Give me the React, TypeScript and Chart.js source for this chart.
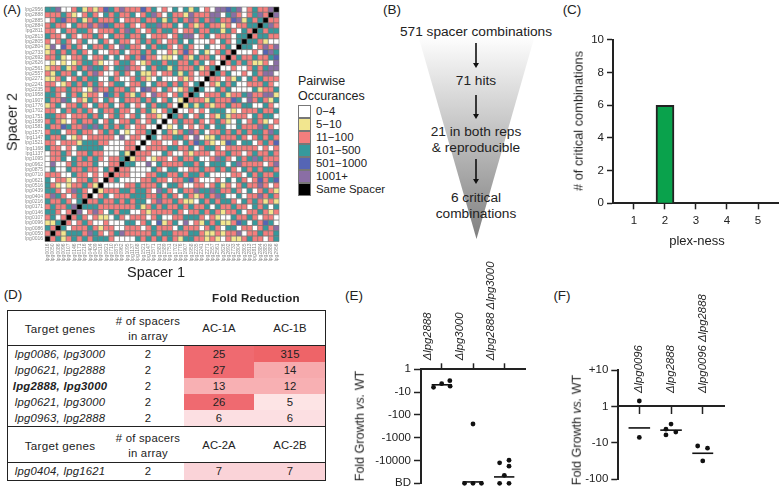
import React, { useEffect, useRef } from "react";
import { Chart, registerables } from "chart.js";

Chart.register(...registerables);

const FONT = "'Liberation Sans', Arial, sans-serif";
const INK = "#222222";

// ---------- Panel A data ----------
const spacersTopToBottom = [
  "lpg2956", "lpg2888", "lpg2885", "lpg2884", "lpg2811", "lpg2813", "lpg2805", "lpg2804", "lpg2733", "lpg2692", "lpg2626",
  "lpg2561", "lpg2557", "lpg2271", "lpg2241", "lpg2235", "lpg1958", "lpg1907", "lpg1776", "lpg1702", "lpg1751", "lpg1589",
  "lpg1581", "lpg1571", "lpg1147", "lpg1521", "lpg1168", "lpg1137", "lpg1095", "lpg0962", "lpg0875", "lpg0710", "lpg0621",
  "lpg0516", "lpg0439", "lpg0404", "lpg0216", "lpg0171", "lpg0146", "lpg0107", "lpg0096", "lpg0086", "lpg0050", "lpg0016",
];
// Bins read row by row from the part above the diagonal; the matrix is symmetric about it.
// w 0-4, y 5-10, r 11-100, t 101-500, b 501-1000, p 1001+
const pairBinsUpper = [
  "ttpwwrtyryrbtrprrrbrtw" + "rwtwtytwrwppbtpwrtrrp",
  "rrrtrywrtrwtrtrrtwrtpr" + "wtrryprrrppwtprwrtpr",
  "wrtbrrtyrtrrrtwrrrtrrt" + "ytrtrprtrptrrbpytrt",
  "rtrrwtrrprpbtrrtrwrttp" + "rrtwtryrtrryrwrrtt",
  "rrwtrrttrwrrrtrptrwrtr" + "ttrwrrtrrttytrwtr",
  "trrwtrwrrtrwtrrtrrtwrr" + "rwrtppwrtwrrrwtt",
  "rwrtrwrtwwtrwtrrwrtrtr" + "wrrtwtwwwrwtrwt",
  "ypwbrtrwtrrtrwptrrwtrt" + "trwrtrwwtwwrtw",
  "yrtrtrtrwtwwrrtwrrtrtw" + "wryrbrwtywrtr",
  "rrtywrrtwrrtwtwrtrbrrw" + "yywtrytrrtwr",
  "wywywyrttrywwrttrwyrtt" + "rttrrtrtwrw",
  "yrrtyrtrpttrwttprrwtrt" + "tytrrrtyrt",
  "rytrrtwtrprwwrtrwtyyrw" + "rrtytrwrr",
  "yyrtwrtrttwwtrwwrtrywt" + "wwwryrww",
  "rrwyrtrtrtrwrttwrrtwtr" + "rtrtrwt",
  "rtrrtrrwyprrtrrtrwbprw" + "trwyrt",
  "ttrwtrtyrrwbtrtrytrwpr" + "rwrtr",
  "trrptwrytrwtrwtrrrtrtw" + "rtwy",
  "yrtwrrtrwtrrtwrtwrwtrt" + "trw",
  "rrwtrtrtrwtrrtrrwtrtyw" + "rt",
  "ttrrwrrrtrtwrtrwrtwrry" + "w",
  "rtrywrtrrtwrtwrrtrwrtw",
  "trrbtrrptptrtrtrwrrww",
  "rttwrrtrrwrtrtwywrrt",
  "trrtwyrwrrrrrwpwrrw",
  "rrwrrrytttrrwwwrrw",
  "trrwrwtttttwwwwrr",
  "wrrtrwrrtrrwwwty",
  "wrrtwtrtrtrwrrt",
  "wpwwrtrrrtwwrr",
  "wtwwtrrtrrwtr",
  "rrrwwtrrwrwr",
  "twrrywrrtrw",
  "trywyrrtry",
  "ttrwrptrw",
  "rptrwrtr",
  "trrtrwt",
  "rtrrtp",
  "ttrwr",
  "rtwr",
  "yyt",
  "tr",
  "r",
];
const binColors: Record<string, string> = {
  w: "#ffffff", y: "#f2e68f", r: "#f47e7d", t: "#36999c", b: "#5565b5", p: "#8a6ea5", k: "#000000",
};
const legendBins = [
  ["0\u22124", "w"], ["5\u221210", "y"], ["11\u2212100", "r"], ["101\u2212500", "t"],
  ["501\u22121000", "b"], ["1001+", "p"], ["Same Spacer", "k"],
];

// ---------- Panel B data ----------
const funnelLines = [
  ["571 spacer combinations", 32], ["71 hits", 81], ["21 in both reps", 131.5], ["& reproducible", 148],
  ["6 critical", 198], ["combinations", 214],
] as [string, number][];

// ---------- Panel C data ----------
const plexNess = [1, 2, 3, 4, 5];
const criticalCombinations = [0, 6, 0, 0, 0];

// ---------- Panel D data ----------
const tableOneGenes = ["lpg0086, lpg3000", "lpg0621, lpg2888", "lpg2888, lpg3000", "lpg0621, lpg3000", "lpg0963, lpg2888"];
const tableOneSpacers = [2, 2, 2, 2, 2];
const tableOneA = [25, 27, 13, 26, 6];
const tableOneB = [315, 14, 12, 5, 6];
const tableTwoGenes = ["lpg0404, lpg1621"];
const tableTwoSpacers = [2];
const tableTwoA = [7];
const tableTwoB = [7];

// ---------- Panel E data (position on the axis: 0 = 1, 1 = -10 ... 5 = BD) ----------
const eTicks = ["1", "-10", "-100", "-1000", "-10000", "BD"];
const eLabels = ["\u0394lpg2888", "\u0394lpg3000", "\u0394lpg2888 \u0394lpg3000"];
const ePoints = [
  { x: 0.74, y: 0.79 }, { x: 1.0, y: 0.63 }, { x: 1.26, y: 0.5 }, { x: 1.27, y: 0.74 },
  { x: 2.0, y: 2.4 }, { x: 1.73, y: 5.0 }, { x: 2.0, y: 5.0 }, { x: 2.27, y: 5.0 },
  { x: 2.85, y: 4.1 }, { x: 3.15, y: 3.99 }, { x: 3.15, y: 4.25 }, { x: 3.0, y: 4.65 }, { x: 2.85, y: 5.0 }, { x: 3.15, y: 5.0 },
];
const eMedians = [
  [{ x: 0.68, y: 0.68 }, { x: 1.32, y: 0.68 }],
  [{ x: 1.67, y: 4.94 }, { x: 2.32, y: 4.94 }],
  [{ x: 2.67, y: 4.72 }, { x: 3.32, y: 4.72 }],
];

// ---------- Panel F data (position on the axis: 1 = +10, 0 = 1, -1 = -10, -2 = -100) ----------
const fTicks: Record<string, string> = { "1": "+10", "0": "1", "-1": "-10", "-2": "-100" };
const fLabels = ["\u0394lpg0096", "\u0394lpg2888", "\u0394lpg0096 \u0394lpg2888"];
const fPoints = [
  { x: 1.0, y: 0.148 }, { x: 1.0, y: -0.854 },
  { x: 2.0, y: -0.488 }, { x: 1.84, y: -0.628 }, { x: 2.15, y: -0.706 }, { x: 1.84, y: -0.785 },
  { x: 2.84, y: -1.09 }, { x: 3.15, y: -1.15 }, { x: 3.0, y: -1.5 },
];
const fMedians = [
  [{ x: 0.66, y: -0.593 }, { x: 1.34, y: -0.593 }],
  [{ x: 1.66, y: -0.654 }, { x: 2.34, y: -0.654 }],
  [{ x: 2.67, y: -1.29 }, { x: 3.33, y: -1.29 }],
];

// ---------- helpers ----------
function binAt(row: number, col: number): string {
  const n = spacersTopToBottom.length;
  if (row + col === n - 1) return "k";
  if (row + col < n - 1) return pairBinsUpper[row]?.[col] ?? "r";
  return pairBinsUpper[n - 1 - col]?.[n - 1 - row] ?? "r";
}
function heat(v: number): string {
  if (v >= 300) return "#ee6468";
  if (v >= 25) return "#ef6a70";
  if (v >= 14) return "#f7aaad";
  if (v >= 12) return "#f8b0b3";
  if (v >= 7) return "#fad3d8";
  if (v >= 6) return "#fcdfe2";
  return "#fde4e5";
}
const axisGrid = (tickLength: number) => ({
  display: true, drawOnChartArea: false, drawTicks: true, tickLength, tickWidth: 1.5, tickColor: INK, offset: false,
});
const axisBorder = { display: true, color: INK, width: 2 };
const tickFont = { family: FONT, size: 11.5 };
const sideLabelFont = { family: FONT, size: 11.3, style: "italic" };

function useChart(ref: React.RefObject<HTMLCanvasElement | null>, make: (c: HTMLCanvasElement) => Chart) {
  useEffect(() => {
    if (!ref.current) return;
    const chart = make(ref.current);
    return () => chart.destroy();
  }, []);
}

function T({ x, y, size = 12, rot = 0, bold = false, italic = false, color = INK, children, spacing = 0 }: any) {
  return (
    <div style={{
      position: "absolute", left: x, top: y, whiteSpace: "nowrap", fontFamily: FONT, fontSize: size, color,
      fontWeight: bold ? 700 : 400, fontStyle: italic ? "italic" : "normal", letterSpacing: spacing, lineHeight: 1,
      transform: `translate(-50%,-50%) rotate(${rot}deg)`,
    }}>{children}</div>
  );
}

function Canvas({ cref, left, top, w, h }: any) {
  return <canvas ref={cref} width={w} height={h} style={{ position: "absolute", left, top, width: w, height: h }} />;
}

function TableRow({ y, gene, n, a, b, bold, bandTop, bandH }: any) {
  return (
    <>
      <div style={{ position: "absolute", left: 183.5, top: bandTop, width: 70.5, height: bandH, background: heat(a) }} />
      <div style={{ position: "absolute", left: 254, top: bandTop, width: 71, height: bandH, background: heat(b) }} />
      <T x={60} y={y} size={11.3} italic bold={bold} spacing={0.25}>{gene}</T>
      <T x={148} y={y} size={11.3}>{n}</T>
      <T x={219} y={y} size={11.3}>{a}</T>
      <T x={290} y={y} size={11.3}>{b}</T>
    </>
  );
}

function TableHead({ y, a, b }: any) {
  return (
    <>
      <T x={60} y={y} size={11.6} spacing={0.3}>Target genes</T>
      <T x={148} y={y - 7.5} size={11.3} spacing={0.25}># of spacers</T>
      <T x={148} y={y + 8} size={11.3} spacing={0.25}>in array</T>
      <T x={219} y={y} size={11.3}>{a}</T>
      <T x={290} y={y} size={11.3}>{b}</T>
    </>
  );
}

export default function App() {
  const heatRef = useRef<HTMLCanvasElement>(null);
  const barRef = useRef<HTMLCanvasElement>(null);
  const eRef = useRef<HTMLCanvasElement>(null);
  const fRef = useRef<HTMLCanvasElement>(null);

  useChart(heatRef, (c) => {
    const xLabels = [...spacersTopToBottom].reverse();
    const cells: { x: string; y: string }[] = [];
    const colors: string[] = [];
    spacersTopToBottom.forEach((yLabel, r) => {
      xLabels.forEach((xLabel, col) => {
        cells.push({ x: xLabel, y: yLabel });
        colors.push(binColors[binAt(r, col)]);
      });
    });
    const labelTick = { font: { family: FONT, size: 5 }, color: "#8a8a8a", autoSkip: false, padding: 2 };
    const noGrid = { display: false, drawTicks: false };
    return new Chart(c, {
      type: "scatter",
      data: {
        datasets: [{
          data: cells as any, pointStyle: "rect", pointRadius: 3.77, pointBorderWidth: 0.6,
          pointBackgroundColor: colors, pointBorderColor: "#6f6f6f",
        }],
      },
      options: {
        responsive: false, animation: false, events: [],
        layout: { padding: { top: 7, right: 11, left: 0, bottom: 0 } },
        plugins: { legend: { display: false }, tooltip: { enabled: false } },
        scales: {
          x: {
            type: "category", labels: xLabels, offset: true, grid: noGrid, border: { display: false },
            ticks: { ...labelTick, minRotation: 90, maxRotation: 90 },
            afterFit: (s: any) => { s.height = 28.5; },
          },
          y: {
            type: "category", labels: spacersTopToBottom, offset: true, grid: noGrid, border: { display: false },
            ticks: labelTick,
            afterFit: (s: any) => { s.width = 45; },
          },
        },
      },
    } as any);
  });

  useChart(barRef, (c) => new Chart(c, {
    type: "bar",
    data: {
      datasets: [{
        data: plexNess.map((p, i) => ({ x: p, y: criticalCombinations[i] })) as any,
        backgroundColor: "#0aa24c", borderColor: INK, borderWidth: 2, barThickness: 18,
      }],
    },
    options: {
      responsive: false, animation: false, events: [],
      layout: { padding: { top: 8, right: 2 } },
      plugins: { legend: { display: false }, tooltip: { enabled: false } },
      scales: {
        x: {
          type: "linear", offset: false, min: 0.323, max: 5.645, grid: axisGrid(6), border: axisBorder,
          ticks: { stepSize: 1, includeBounds: false, font: tickFont, color: INK, padding: 5 },
          afterFit: (s: any) => { s.height = 41.7; },
        },
        y: {
          min: 0, max: 10, grid: axisGrid(6), border: axisBorder,
          ticks: { stepSize: 2, font: tickFont, color: INK, padding: 3 },
          afterFit: (s: any) => { s.width = 53; },
        },
      },
    },
  } as any));

  useChart(eRef, (c) => new Chart(c, {
    type: "scatter",
    data: {
      datasets: [
        { data: ePoints, pointRadius: 2.4, pointBackgroundColor: "#111", pointBorderWidth: 0, clip: false },
        ...eMedians.map((m) => ({ data: m, showLine: true, borderColor: "#111", borderWidth: 1.6, pointRadius: 0, clip: false })),
      ],
    },
    options: {
      responsive: false, animation: false, events: [],
      layout: { padding: { right: 15, bottom: 10.7 } },
      plugins: { legend: { display: false }, tooltip: { enabled: false } },
      scales: {
        x: {
          type: "linear", position: "top", min: 0.34, max: 3.66, grid: axisGrid(6), border: axisBorder,
          ticks: {
            stepSize: 1, includeBounds: false, font: sideLabelFont, color: INK, padding: 3,
            minRotation: 90, maxRotation: 90, autoSkip: false,
            callback: (v: any) => eLabels[Number(v) - 1] ?? "",
          },
          afterFit: (s: any) => { s.height = 119.3; },
        },
        y: {
          reverse: true, min: 0, max: 5, grid: axisGrid(7), border: axisBorder,
          ticks: { stepSize: 1, font: tickFont, color: INK, padding: 3, callback: (v: any) => eTicks[Number(v)] ?? "" },
          afterFit: (s: any) => { s.width = 81; },
        },
      },
    },
  } as any));

  useChart(fRef, (c) => new Chart(c, {
    type: "scatter",
    data: {
      datasets: [
        { data: fPoints, pointRadius: 2.4, pointBackgroundColor: "#111", pointBorderWidth: 0, clip: false },
        ...fMedians.map((m) => ({ data: m, showLine: true, borderColor: "#111", borderWidth: 1.6, pointRadius: 0, clip: false })),
      ],
    },
    options: {
      responsive: false, animation: false, events: [],
      layout: { padding: { right: 16, bottom: 4 } },
      plugins: { legend: { display: false }, tooltip: { enabled: false } },
      scales: {
        x: {
          type: "linear", position: { y: 0 }, min: 0.337, max: 3.67, grid: axisGrid(7), border: axisBorder,
          ticks: { stepSize: 1, includeBounds: false, display: false },
        },
        x2: {
          type: "linear", position: "top", min: 0.337, max: 3.67,
          grid: { display: false, drawTicks: false }, border: { display: false },
          ticks: {
            stepSize: 1, includeBounds: false, font: sideLabelFont, color: INK, padding: 23, mirror: true,
            minRotation: 90, maxRotation: 90, autoSkip: false,
            callback: (v: any) => fLabels[Number(v) - 1] ?? "",
          },
          afterFit: (s: any) => { s.height = 90; },
        },
        y: {
          min: -2, max: 1, grid: axisGrid(7), border: axisBorder,
          ticks: { stepSize: 1, font: tickFont, color: INK, padding: 3, callback: (v: any) => fTicks[String(Number(v))] ?? "" },
          afterFit: (s: any) => { s.width = 58.3; },
        },
      },
    },
  } as any));

  return (
    <div style={{ position: "fixed", left: 0, top: 0, width: 780, height: 494, background: "#fff", overflow: "hidden" }}>
      {/* Panel letters */}
      <T x={12} y={10} size={13.5}>(A)</T>
      <T x={392} y={10} size={13.5}>(B)</T>
      <T x={572} y={10} size={13.5}>(C)</T>
      <T x={13} y={295} size={13.5}>(D)</T>
      <T x={354} y={296} size={13.5}>(E)</T>
      <T x={562} y={296} size={13.5}>(F)</T>

      {/* Panel A */}
      <Canvas cref={heatRef} left={0} top={0} w={290} h={270} />
      <T x={12} y={122} size={14.5} rot={-90}>Spacer 2</T>
      <T x={156} y={272} size={14.5}>Spacer 1</T>
      <div style={{ position: "absolute", left: 298, top: 74, fontFamily: FONT, fontSize: 12.5, lineHeight: "15px", color: INK }}>
        Pairwise<br />Occurances
      </div>
      {legendBins.map(([label, key], i) => (
        <React.Fragment key={label}>
          <div style={{
            position: "absolute", left: 298, top: 104.5 + i * 13, width: 13, height: 13, boxSizing: "border-box",
            background: binColors[key], border: "1px solid #777",
          }} />
          <div style={{ position: "absolute", left: 316, top: 104.5 + i * 13, fontFamily: FONT, fontSize: 11.4, lineHeight: "13px", color: INK, whiteSpace: "nowrap" }}>{label}</div>
        </React.Fragment>
      ))}

      {/* Panel B */}
      <div style={{
        position: "absolute", left: 418, top: 35, width: 117, height: 204,
        background: "linear-gradient(to bottom, #ffffff 0%, #7f7f7f 100%)",
        clipPath: "polygon(0 0, 100% 0, 50% 100%)",
      }} />
      {funnelLines.map(([line, y]) => <T key={line} x={476} y={y} size={13.7}>{line}</T>)}
      <svg width={780} height={300} style={{ position: "absolute", left: 0, top: 0 }}>
        {[[43, 68], [95, 119], [159, 184]].map(([a, b]) => (
          <g key={a}>
            <line x1={476} y1={a} x2={476} y2={b - 3} stroke="#111" strokeWidth={1.6} />
            <polygon points={`${473},${b - 5} ${479},${b - 5} ${476},${b}`} fill="#111" />
          </g>
        ))}
      </svg>

      {/* Panel C */}
      <Canvas cref={barRef} left={560} top={30} w={220} h={215} />
      <T x={579} y={121} size={12.8} rot={-90}># of critical combinations</T>
      <T x={697} y={240} size={13}>plex-ness</T>

      {/* Panel D */}
      <T x={256} y={299} size={11.5} bold spacing={0.3}>Fold Reduction</T>
      {tableOneGenes.map((g, i) => (
        <TableRow key={g + i} y={355 + i * 16} gene={g} n={tableOneSpacers[i]} a={tableOneA[i]} b={tableOneB[i]}
          bold={g === "lpg2888, lpg3000"} bandTop={346 + i * 16} bandH={16} />
      ))}
      {tableTwoGenes.map((g, i) => (
        <TableRow key={g} y={472} gene={g} n={tableTwoSpacers[i]} a={tableTwoA[i]} b={tableTwoB[i]} bandTop={463} bandH={17} />
      ))}
      <TableHead y={329} a="AC-1A" b="AC-1B" />
      <TableHead y={446} a="AC-2A" b="AC-2B" />
      <div style={{ position: "absolute", left: 6.5, top: 309.5, width: 319, height: 171, boxSizing: "border-box", border: "1.5px solid #222" }} />
      {[345.5, 426.5, 462.5].map((y) => (
        <div key={y} style={{ position: "absolute", left: 6.5, top: y - 0.75, width: 319, height: 1.5, background: "#222" }} />
      ))}

      {/* Panel E */}
      <Canvas cref={eRef} left={340} top={250} w={200} h={244} />
      <T x={360} y={426} size={12.5} rot={-90}>Fold Growth <i>vs.</i> WT</T>

      {/* Panel F */}
      <Canvas cref={fRef} left={560} top={280} w={180} h={209} />
      <T x={577} y={430} size={12.5} rot={-90}>Fold Growth <i>vs.</i> WT</T>
    </div>
  );
}
